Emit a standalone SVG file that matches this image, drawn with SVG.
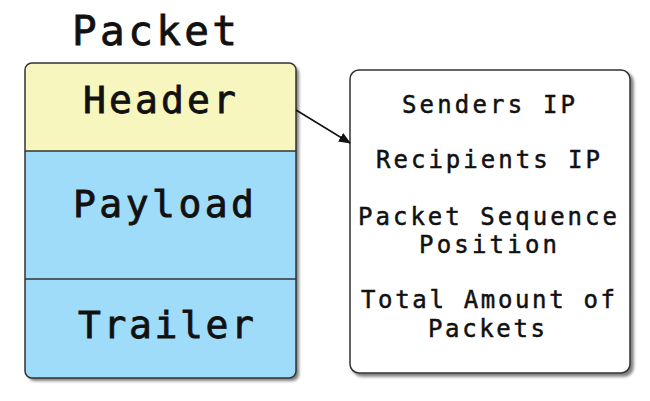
<svg xmlns="http://www.w3.org/2000/svg" width="650" height="401" viewBox="0 0 650 401">
<defs>
<style>
.t{font-family:"DejaVu Sans Mono","Liberation Mono",monospace;fill:#111;stroke:#111;stroke-width:0.8;}
.big{font-size:38px;}
.small{font-size:24px;stroke-width:0.5;}
.box{stroke:#333;stroke-width:1.5;}
</style>
<marker id="arr" markerWidth="12" markerHeight="10" refX="11" refY="5" orient="auto" markerUnits="userSpaceOnUse">
<path d="M0,0 L12,5 L0,10 Z" fill="#111"/>
</marker>
<filter id="sh" x="-10%" y="-10%" width="130%" height="130%">
<feGaussianBlur in="SourceAlpha" stdDeviation="1.5"/>
<feOffset dx="3" dy="3" result="o"/>
<feComponentTransfer><feFuncA type="linear" slope="0.5"/></feComponentTransfer>
<feMerge><feMergeNode/><feMergeNode in="SourceGraphic"/></feMerge>
</filter>
<clipPath id="lc"><rect x="25" y="63" width="271" height="315" rx="7"/></clipPath>
</defs>
<rect width="650" height="401" fill="#fff"/>
<text class="t" x="72" y="45" font-size="41" textLength="165" lengthAdjust="spacing">Packet</text>
<g id="packet">
<rect x="25" y="63" width="271" height="315" rx="7" fill="#9fdcf9" filter="url(#sh)"/>
<g clip-path="url(#lc)">
<rect x="25" y="63" width="271" height="88" fill="#f6f6be"/>
</g>
<rect class="box" x="25" y="63" width="271" height="315" rx="7" fill="none"/>
</g>
<g id="header">
<line class="box" x1="25" y1="151" x2="296" y2="151"/>
<text class="t big" x="83" y="113" textLength="153" lengthAdjust="spacing">Header</text>
</g>
<g id="payload">
<text class="t big" x="73" y="217" textLength="181" lengthAdjust="spacing">Payload</text>
</g>
<g id="trailer">
<line class="box" x1="25" y1="279" x2="296" y2="279"/>
<text class="t big" x="78" y="338" textLength="176" lengthAdjust="spacing">Trailer</text>
</g>
<g id="details">
<rect class="box" x="350" y="70" width="280" height="303" rx="9" fill="#fff" filter="url(#sh)"/>
<text class="t small" x="402" y="113" textLength="173" lengthAdjust="spacing">Senders IP</text>
<text class="t small" x="376" y="168" textLength="224" lengthAdjust="spacing">Recipients IP</text>
<text class="t small" x="358" y="225" textLength="259" lengthAdjust="spacing">Packet Sequence</text>
<text class="t small" x="419" y="253" textLength="138" lengthAdjust="spacing">Position</text>
<text class="t small" x="361" y="308" textLength="254" lengthAdjust="spacing">Total Amount of</text>
<text class="t small" x="428" y="337" textLength="117" lengthAdjust="spacing">Packets</text>
</g>
<g id="connectors">
<line x1="296" y1="110" x2="350" y2="143" stroke="#111" stroke-width="1.5" marker-end="url(#arr)"/>
</g>
</svg>
